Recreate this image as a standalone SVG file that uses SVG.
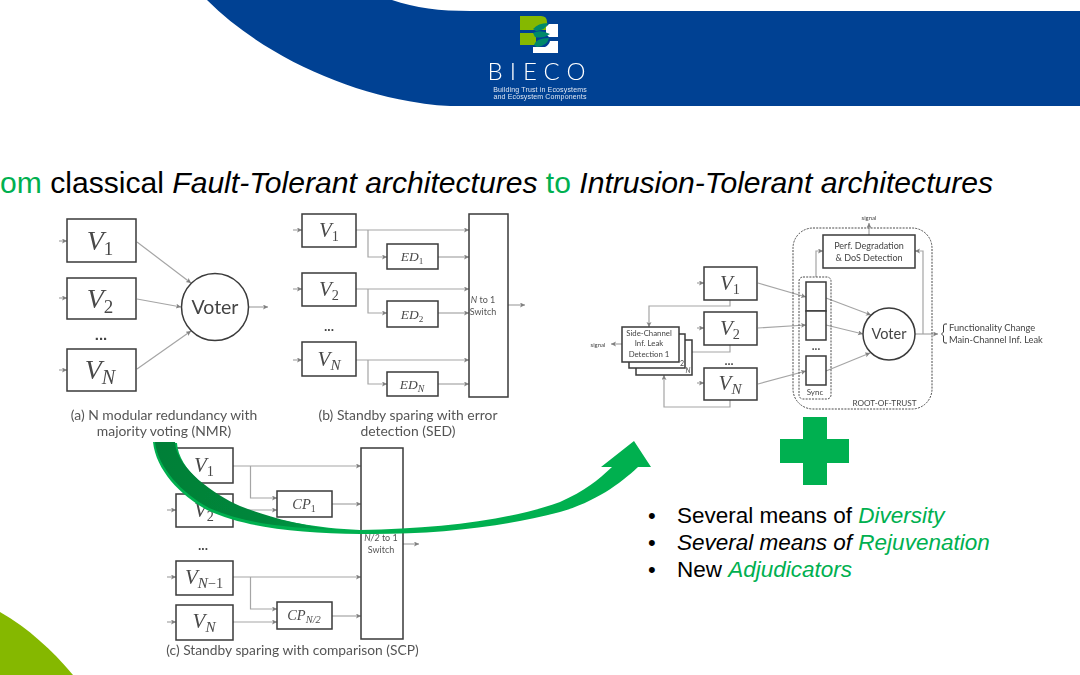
<svg xmlns="http://www.w3.org/2000/svg" width="1080" height="675" viewBox="0 0 1080 675">
<style>
.b{fill:#fff;stroke:#3a3a3a;stroke-width:1.5}
.bn{fill:none;stroke:#3a3a3a;stroke-width:1.5}
.c{fill:none;stroke:#a5a5a5;stroke-width:1.2}
.a{marker-end:url(#ah)}
.d{fill:none;stroke:#4a4a4a;stroke-width:1;stroke-dasharray:2 1.2}
.m{font-family:"Liberation Serif",serif;font-style:italic;fill:#4a4a4a;text-anchor:middle}
.s{font-style:normal;font-size:.68em}
.n{font-style:italic;font-size:.72em}
.t{font-family:Lato,"Open Sans",sans-serif;fill:#555;text-anchor:middle}
.k{font-family:Lato,"Open Sans",sans-serif;fill:#444;text-anchor:middle}
.o{font-family:"Liberation Sans",Arial,sans-serif;font-weight:bold;fill:#444;text-anchor:middle}
.h{font-family:"Liberation Sans",Arial,sans-serif;fill:#000}
.g{fill:#00b050}
.i{font-style:italic}
.w{font-family:"Liberation Sans",Arial,sans-serif;fill:#dfe6f2;text-anchor:middle}
</style>
<defs>
<marker id="ah" markerWidth="6" markerHeight="6" refX="5" refY="2.5" orient="auto" markerUnits="userSpaceOnUse"><path d="M0 0L5 2.5L0 5L1.2 2.5Z" fill="#808080"/></marker>
<filter id="blur" x="-5%" y="-5%" width="110%" height="110%"><feGaussianBlur stdDeviation="0.55"/></filter>
<linearGradient id="dk" gradientUnits="userSpaceOnUse" x1="153" y1="442" x2="340" y2="530"><stop offset="0" stop-color="#007f37"/><stop offset=".65" stop-color="#00873b"/><stop offset="1" stop-color="#00a54b"/></linearGradient>
</defs>

<g id="header">
<path d="M207 0C262 55 345 92 420 103C432 105 442 106 455 106H1080V11H470C440 11 415 8 392 0Z" fill="#004193"/>
</g>
<g id="corner"><path d="M0 612C28 628 52 650 73 675H0Z" fill="#85b800"/></g>

<g id="logo" filter="url(#blur)">
<path d="M520 16H541Q547 16 547 22V30H520ZM520 33H536V45H520Z" fill="#85b800"/>
<path d="M549 24H558V37H549L546 34V27ZM533 53V47H545Q549 45 550 41H558V53Z" fill="#fff"/>
<path d="M533 29Q538 23 548 23Q546 30 536 31ZM533 33Q540 29 550 34Q543 39 535 37ZM534 45Q536 38 549 38Q547 46 537 47Z" fill="#00896b"/>
<text x="540" y="79.500" font-family="Lato,sans-serif" font-size="24" font-weight="300" letter-spacing="7" text-anchor="middle" fill="#fff">BIECO</text>
<text class="w" x="540" y="92" font-size="7" letter-spacing=".15">Building Trust in Ecosystems</text>
<text class="w" x="540" y="99" font-size="7" letter-spacing=".15">and Ecosystem Components</text>
</g>

<g id="title">
<text class="h" x="0" y="193" font-size="30.100"><tspan class="g">om</tspan> classical <tspan class="i">Fault-Tolerant architectures</tspan> <tspan class="g">to</tspan> <tspan class="i">Intrusion-Tolerant architectures</tspan></text>
</g>

<g id="fig-a-b-c-right" filter="url(#blur)">
<g id="connectors">
<!-- a -->
<path class="c a" d="M59 241H67"/><path class="c a" d="M59 298H67"/><path class="c a" d="M59 370H67"/>
<path class="c a" d="M137 242L191 283"/><path class="c a" d="M137 299L181 307"/><path class="c a" d="M137 369L191 331"/><path class="c a" d="M249 307H268"/>
<!-- b -->
<path class="c a" d="M293 230H302"/><path class="c a" d="M293 289H302"/><path class="c a" d="M293 360H302"/>
<path class="c a" d="M356 230H469"/><path class="c a" d="M368 230V257H387"/><path class="c a" d="M438 257H469"/>
<path class="c a" d="M356 289H469"/><path class="c a" d="M368 289V313H387"/><path class="c a" d="M438 313H469"/>
<path class="c a" d="M356 360H469"/><path class="c a" d="M368 360V384H387"/><path class="c a" d="M438 384H469"/>
<path class="c a" d="M508 305H525"/>
<!-- c -->
<path class="c a" d="M167 510H176"/><path class="c a" d="M167 577H176"/><path class="c a" d="M167 622H176"/>
<path class="c a" d="M233 466H361"/><path class="c a" d="M250.500 466V498H277"/><path class="c a" d="M233 510H277"/><path class="c a" d="M332 504H361"/>
<path class="c a" d="M233 577H361"/><path class="c a" d="M250.500 577V609H277"/><path class="c a" d="M233 622H277"/><path class="c a" d="M332 616H361"/>
<path class="c a" d="M403 544H419"/>
<!-- right -->
<path class="c a" d="M697 283H704"/><path class="c a" d="M697 328H704"/><path class="c a" d="M697 383H704"/>
<path class="c a" d="M730 300V306H649V327"/><path class="c a" d="M730 345V352H685"/><path class="c a" d="M730 400V407H664V375"/>
<path class="c a" d="M622 344H611"/>
<path class="c a" d="M758 283L806 297"/><path class="c a" d="M758 328L806 325"/><path class="c a" d="M758 384L806 371"/>
<path class="c a" d="M826 298L871 315"/><path class="c a" d="M826 325L863 334"/><path class="c a" d="M826 371L870 353"/>
<path class="c a" d="M816 277V251H823"/><path class="c a" d="M923 334V251H915"/><path class="c a" d="M915 334H938"/><path class="c a" d="M869 235V223"/>
</g>

<g id="a-v1"><rect class="b" x="67" y="219" width="69" height="43"/><text class="m" x="100" y="250" font-size="28">V<tspan class="s" dy="5">1</tspan></text></g>
<g id="a-v2"><rect class="b" x="67" y="278" width="69" height="41"/><text class="m" x="100" y="308" font-size="28">V<tspan class="s" dy="5">2</tspan></text></g>
<g id="a-vn"><rect class="b" x="67" y="349" width="69" height="42"/><text class="m" x="100" y="379" font-size="28">V<tspan class="n" dy="5">N</tspan></text></g>
<g id="a-dots"><text class="o" x="101" y="340" font-size="15">...</text></g>
<g id="a-voter"><circle class="b" cx="215" cy="307" r="33.500"/><text class="k" x="215" y="314" font-size="19.500">Voter</text></g>
<g id="a-caption"><text class="t" x="164" y="420" font-size="13.900">(a) N modular redundancy with</text><text class="t" x="164" y="436" font-size="13.900">majority voting (NMR)</text></g>

<g id="b-v1"><rect class="b" x="302" y="214" width="54" height="33"/><text class="m" x="329" y="237" font-size="21">V<tspan class="s" dy="4">1</tspan></text></g>
<g id="b-ed1"><rect class="b" x="387" y="244" width="51" height="25"/><text class="m" x="412" y="261" font-size="13.500">ED<tspan class="s" dy="3">1</tspan></text></g>
<g id="b-v2"><rect class="b" x="302" y="273" width="54" height="33"/><text class="m" x="329" y="296" font-size="21">V<tspan class="s" dy="4">2</tspan></text></g>
<g id="b-ed2"><rect class="b" x="387" y="301" width="51" height="26"/><text class="m" x="412" y="319" font-size="13.500">ED<tspan class="s" dy="3">2</tspan></text></g>
<g id="b-dots"><text class="o" x="329" y="331" font-size="12">...</text></g>
<g id="b-vn"><rect class="b" x="302" y="342" width="54" height="34"/><text class="m" x="329" y="366" font-size="21">V<tspan class="n" dy="4">N</tspan></text></g>
<g id="b-edn"><rect class="b" x="387" y="372" width="51" height="24"/><text class="m" x="412" y="389" font-size="13.500">ED<tspan class="n" dy="3">N</tspan></text></g>
<g id="b-switch"><rect class="b" x="469" y="214" width="39" height="183"/><text class="t" x="483" y="303" font-size="9"><tspan font-style="italic">N</tspan> to 1</text><text class="t" x="483" y="315" font-size="9">Switch</text></g>
<g id="b-caption"><text class="t" x="408" y="420" font-size="13.900">(b) Standby sparing with error</text><text class="t" x="408" y="436" font-size="13.900">detection (SED)</text></g>

<g id="c-v1"><rect class="b" x="176" y="448" width="57" height="35"/><text class="m" x="204" y="472" font-size="21">V<tspan class="s" dy="4">1</tspan></text></g>
<g id="c-v2"><rect class="b" x="176" y="494" width="57" height="33"/><text class="m" x="204" y="517" font-size="21">V<tspan class="s" dy="4">2</tspan></text></g>
<g id="c-dots"><text class="o" x="203" y="550" font-size="12">...</text></g>
<g id="c-vn1"><rect class="b" x="176" y="561" width="57" height="34"/><text class="m" x="204" y="584" font-size="21">V<tspan class="n" dy="4">N</tspan><tspan class="s">−1</tspan></text></g>
<g id="c-vn"><rect class="b" x="176" y="605" width="57" height="35"/><text class="m" x="204" y="628" font-size="21">V<tspan class="n" dy="4">N</tspan></text></g>
<g id="c-cp1"><rect class="b" x="277" y="491" width="55" height="26"/><text class="m" x="304" y="509" font-size="14.500">CP<tspan class="s" dy="3">1</tspan></text></g>
<g id="c-cpn"><rect class="b" x="277" y="602" width="55" height="27"/><text class="m" x="304" y="620" font-size="14.500">CP<tspan class="n" dy="3">N/2</tspan></text></g>
<g id="c-switch"><rect class="b" x="361" y="448" width="42" height="191"/><text class="t" x="381" y="541" font-size="9"><tspan font-style="italic">N/2</tspan> to 1</text><text class="t" x="381" y="553" font-size="9">Switch</text></g>
<g id="c-caption"><text class="t" x="292.500" y="655" font-size="13.800">(c) Standby sparing with comparison (SCP)</text></g>

<g id="r-v1"><rect class="b" x="704" y="267" width="53" height="33"/><text class="m" x="730" y="290" font-size="21">V<tspan class="s" dy="4">1</tspan></text></g>
<g id="r-v2"><rect class="b" x="704" y="312" width="53" height="33"/><text class="m" x="730" y="335" font-size="21">V<tspan class="s" dy="4">2</tspan></text></g>
<g id="r-dots"><text class="o" x="729" y="365" font-size="11">...</text></g>
<g id="r-vn"><rect class="b" x="704" y="368" width="53" height="32"/><text class="m" x="730" y="390" font-size="21">V<tspan class="n" dy="4">N</tspan></text></g>
<g id="r-side3"><rect class="b" x="636" y="340" width="56" height="35"/><text class="k" x="688" y="373" font-size="7" font-style="italic">N</text></g>
<g id="r-side2"><rect class="b" x="629" y="334" width="56" height="34"/><text class="k" x="682" y="366" font-size="7">2</text></g>
<g id="r-side1"><rect class="b" x="622" y="327" width="57" height="35"/><text class="k" x="649" y="336" font-size="7.800">Side-Channel</text><text class="k" x="649" y="346" font-size="7.800">Inf. Leak</text><text class="k" x="649" y="357" font-size="7.800">Detection 1</text></g>
<g id="r-signal1"><text class="k" x="598" y="347" font-size="6">signal</text></g>
<g id="r-root"><rect class="d" x="793" y="228" width="139" height="181" rx="20"/><text class="k" x="884.500" y="406" font-size="8.200">ROOT-OF-TRUST</text></g>
<g id="r-perf"><rect class="b" x="823" y="235" width="92" height="33"/><text class="k" x="869" y="249" font-size="9">Perf. Degradation</text><text class="k" x="869" y="261" font-size="9">&amp; DoS Detection</text></g>
<g id="r-signal2"><text class="k" x="869" y="220" font-size="6">signal</text></g>
<g id="r-sync"><rect class="d" x="799" y="277" width="32" height="122" rx="4"/><rect class="b" x="806" y="282" width="20" height="29"/><rect class="b" x="806" y="311" width="20" height="29"/><text class="o" x="816" y="350" font-size="10">...</text><rect class="b" x="806" y="356" width="20" height="29"/><text class="k" x="815" y="395" font-size="8">Sync</text></g>
<g id="r-voter"><circle class="b" cx="889" cy="334" r="26"/><text class="k" x="889" y="339" font-size="14.500">Voter</text></g>
<g id="r-output"><path class="bn" style="stroke-width:1" d="M947 324H945Q943.500 324 943.500 326V332L941.500 334L943.500 336V341Q943.500 343 945 343H947"/><text class="k" x="949" y="331" font-size="9.300" style="text-anchor:start">Functionality Change</text><text class="k" x="949" y="343" font-size="9.300" style="text-anchor:start">Main-Channel Inf. Leak</text></g>
</g>

<g id="curved-arrow" filter="url(#blur)">
<path class="g" d="M153 442C156 470 180 495 207 510C245 528 300 533 360 534C430 535 500 528 560 512C595 502 620 484 638 467H651L634 441L601 467H612C598 480 585 491 560 502C510 520 440 529 360 530C310 528 265 518 240 508C215 497 178 470 177 443Z"/>
<path fill="url(#dk)" d="M155 442C158 468 182 493 209 508C245 524 290 528 340 530C300 526 265 516 240 506C215 495 176 468 175 442Z"/>
</g>

<g id="plus"><path class="g" d="M803 417H827V439H849V463H827V485H803V463H780V439H803Z"/></g>

<g id="bullets">
<text class="h" x="648" y="523" font-size="22">•</text><text class="h" x="677" y="523" font-size="22.500">Several means of <tspan class="g i">Diversity</tspan></text>
<text class="h" x="648" y="550" font-size="22">•</text><text class="h" x="677" y="550" font-size="22.500"><tspan class="i">Several means of</tspan> <tspan class="g i">Rejuvenation</tspan></text>
<text class="h" x="648" y="577" font-size="22">•</text><text class="h" x="677" y="577" font-size="22.500">New <tspan class="g i">Adjudicators</tspan></text>
</g>
</svg>
